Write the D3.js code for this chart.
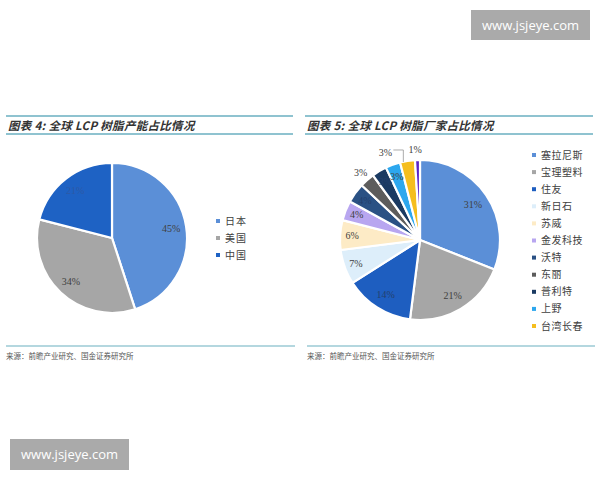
<!DOCTYPE html>
<html><head><meta charset="utf-8">
<script src="https://cdn.jsdelivr.net/npm/d3@7"></script>
<style>body{margin:0;background:#fff}svg{display:block}</style>
</head><body>
<svg id="c" width="600" height="480"></svg>
<script>
// ---- data ----
const leftTitle = "图表 4:  全球 LCP 树脂产能占比情况";
const rightTitle = "图表 5:  全球 LCP 树脂厂家占比情况";
const sourceText = "来源：前瞻产业研究、国金证券研究所";
const leftCategories = ["日本", "美国", "中国"];
const leftValues = [45, 34, 21];
const leftColors = ["#5B8FD7", "#A6A6A6", "#1E62C4"];
const rightCategories = ["塞拉尼斯", "宝理塑料", "住友", "新日石", "苏威", "金发科技", "沃特", "东丽", "普利特", "上野", "台湾长春", "其他"];
const rightValues = [31, 21, 14, 7, 6, 4, 4, 3, 3, 3, 3, 1];
const rightColors = ["#5B8FD7", "#A6A6A6", "#1E5EC0", "#DDEEFA", "#FDEBC6", "#B8A6F0", "#2A5184", "#5C5C5C", "#1A3A62", "#2CA7EE", "#F5BE1E", "#5A22C8"];
const rightLegendCount = 11;

const svg = d3.select("#c");
const teal = "#6AAFC0";

function header(x0, x1, title) {
  svg.append("line").attr("x1", x0).attr("x2", x1).attr("y1", 116).attr("y2", 116).attr("stroke", teal).attr("stroke-width", 1.5);
  svg.append("line").attr("x1", x0).attr("x2", x1).attr("y1", 134).attr("y2", 134).attr("stroke", teal).attr("stroke-width", 1.5);
  svg.append("text").attr("x", x0 + 2).attr("y", 129.5).text(title)
    .attr("font-family", "Noto Sans CJK SC").attr("font-weight", "bold").attr("font-style", "italic")
    .attr("font-size", 11.5).attr("letter-spacing", 0.3).attr("fill", "#333");
}
function footer(x0, x1) {
  svg.append("line").attr("x1", x0).attr("x2", x1).attr("y1", 346).attr("y2", 346).attr("stroke", teal).attr("stroke-width", 1.2);
  svg.append("text").attr("x", x0).attr("y", 359).text(sourceText)
    .attr("font-family", "Noto Sans CJK SC").attr("font-size", 7.5).attr("fill", "#555");
}
header(6, 293, leftTitle);
header(305, 593, rightTitle);
footer(6, 295);
footer(307, 595);

const pie = d3.pie().sort(null).value(d => d);

function drawPie(cx, cy, R, values, colors) {
  const g = svg.append("g").attr("transform", `translate(${cx},${cy})`);
  const arcs = pie(values);
  const arc = d3.arc().innerRadius(0).outerRadius(R);
  g.selectAll("path").data(arcs).join("path")
    .attr("d", arc).attr("fill", (d, i) => colors[i])
    .attr("stroke", "#fff").attr("stroke-width", 2.2).attr("stroke-linejoin", "round");
  return {g, arcs};
}

// left pie
{
  const R = 75;
  const {g, arcs} = drawPie(112, 238, R, leftValues, leftColors);
  const la = d3.arc().innerRadius(R * 0.8).outerRadius(R * 0.8);
  g.selectAll("text.l").data(arcs).join("text")
    .attr("transform", d => `translate(${la.centroid(d)})`)
    .attr("text-anchor", "middle").attr("dy", "0.35em")
    .attr("font-family", "Liberation Serif").attr("font-size", 10)
    .attr("fill", (d, i) => i === 2 ? "#2d59a6" : "#404040")
    .text(d => d.data + "%");
  const lg = svg.append("g").attr("transform", "translate(218,221)");
  leftCategories.forEach((c, i) => {
    lg.append("rect").attr("x", -2).attr("y", i * 17 - 2).attr("width", 4).attr("height", 4).attr("fill", leftColors[i]);
    lg.append("text").attr("x", 7).attr("y", i * 17).attr("dy", "0.35em").attr("letter-spacing", 1)
      .attr("font-family", "Noto Sans CJK SC").attr("font-size", 10).attr("fill", "#404040").text(c);
  });
}

// right pie
{
  const R = 80;
  const cx = 420, cy = 240;
  const {g, arcs} = drawPie(cx, cy, R, rightValues, rightColors);
  const inner = d3.arc().innerRadius(R * 0.8).outerRadius(R * 0.8);
  const innerSmall = d3.arc().innerRadius(R * 0.85).outerRadius(R * 0.85);
  const outer = d3.arc().innerRadius(R * 1.12).outerRadius(R * 1.12);
  const outsideIdx = [7, 10, 11];
  const darkIdx = [2, 6, 8];
  arcs.forEach((d, i) => {
    let pos;
    if (i === 10) {
      const tip = d3.arc().innerRadius(R + 1).outerRadius(R + 1).centroid(d);
      pos = [tip[0] - 22, tip[1] - 8];
      g.append("path").attr("d", d3.line()([[pos[0] + 8, pos[1] - 2], [tip[0] - 4, pos[1] - 2], [tip[0] - 4, tip[1] + 2]]))
        .attr("fill", "none").attr("stroke", "#888").attr("stroke-width", 0.7);
    } else if (outsideIdx.includes(i)) {
      pos = outer.centroid(d);
      if (i === 11) pos = [pos[0] - 2, pos[1] - 1];
    } else if (d.data <= 7) {
      pos = innerSmall.centroid(d);
    } else {
      pos = inner.centroid(d);
    }
    g.append("text").attr("x", pos[0]).attr("y", pos[1])
      .attr("text-anchor", "middle").attr("dy", "0.35em")
      .attr("font-family", "Liberation Serif").attr("font-size", 10)
      .attr("fill", darkIdx.includes(i) ? "#23406e" : "#404040")
      .text(d.data + "%");
  });
  const lg = svg.append("g").attr("transform", "translate(534,155)");
  rightCategories.slice(0, rightLegendCount).forEach((c, i) => {
    lg.append("rect").attr("x", -2).attr("y", i * 17.1 - 2).attr("width", 4).attr("height", 4).attr("fill", rightColors[i]);
    lg.append("text").attr("x", 7).attr("y", i * 17.1).attr("dy", "0.35em").attr("letter-spacing", 0.5)
      .attr("font-family", "Noto Sans CJK SC").attr("font-size", 10).attr("fill", "#404040").text(c);
  });
}

// watermarks
function mark(x, y, w, h) {
  svg.append("rect").attr("x", x).attr("y", y).attr("width", w).attr("height", h).attr("fill", "#AAAAAA");
  svg.append("text").attr("x", x + w / 2).attr("y", y + h / 2).attr("dy", "0.35em").attr("text-anchor", "middle")
    .attr("font-family", "Open Sans").attr("font-size", 13).attr("fill", "#fff").text("www.jsjeye.com");
}
mark(471, 10, 119, 30);
mark(10, 439, 119, 31);
</script>
</body></html>
